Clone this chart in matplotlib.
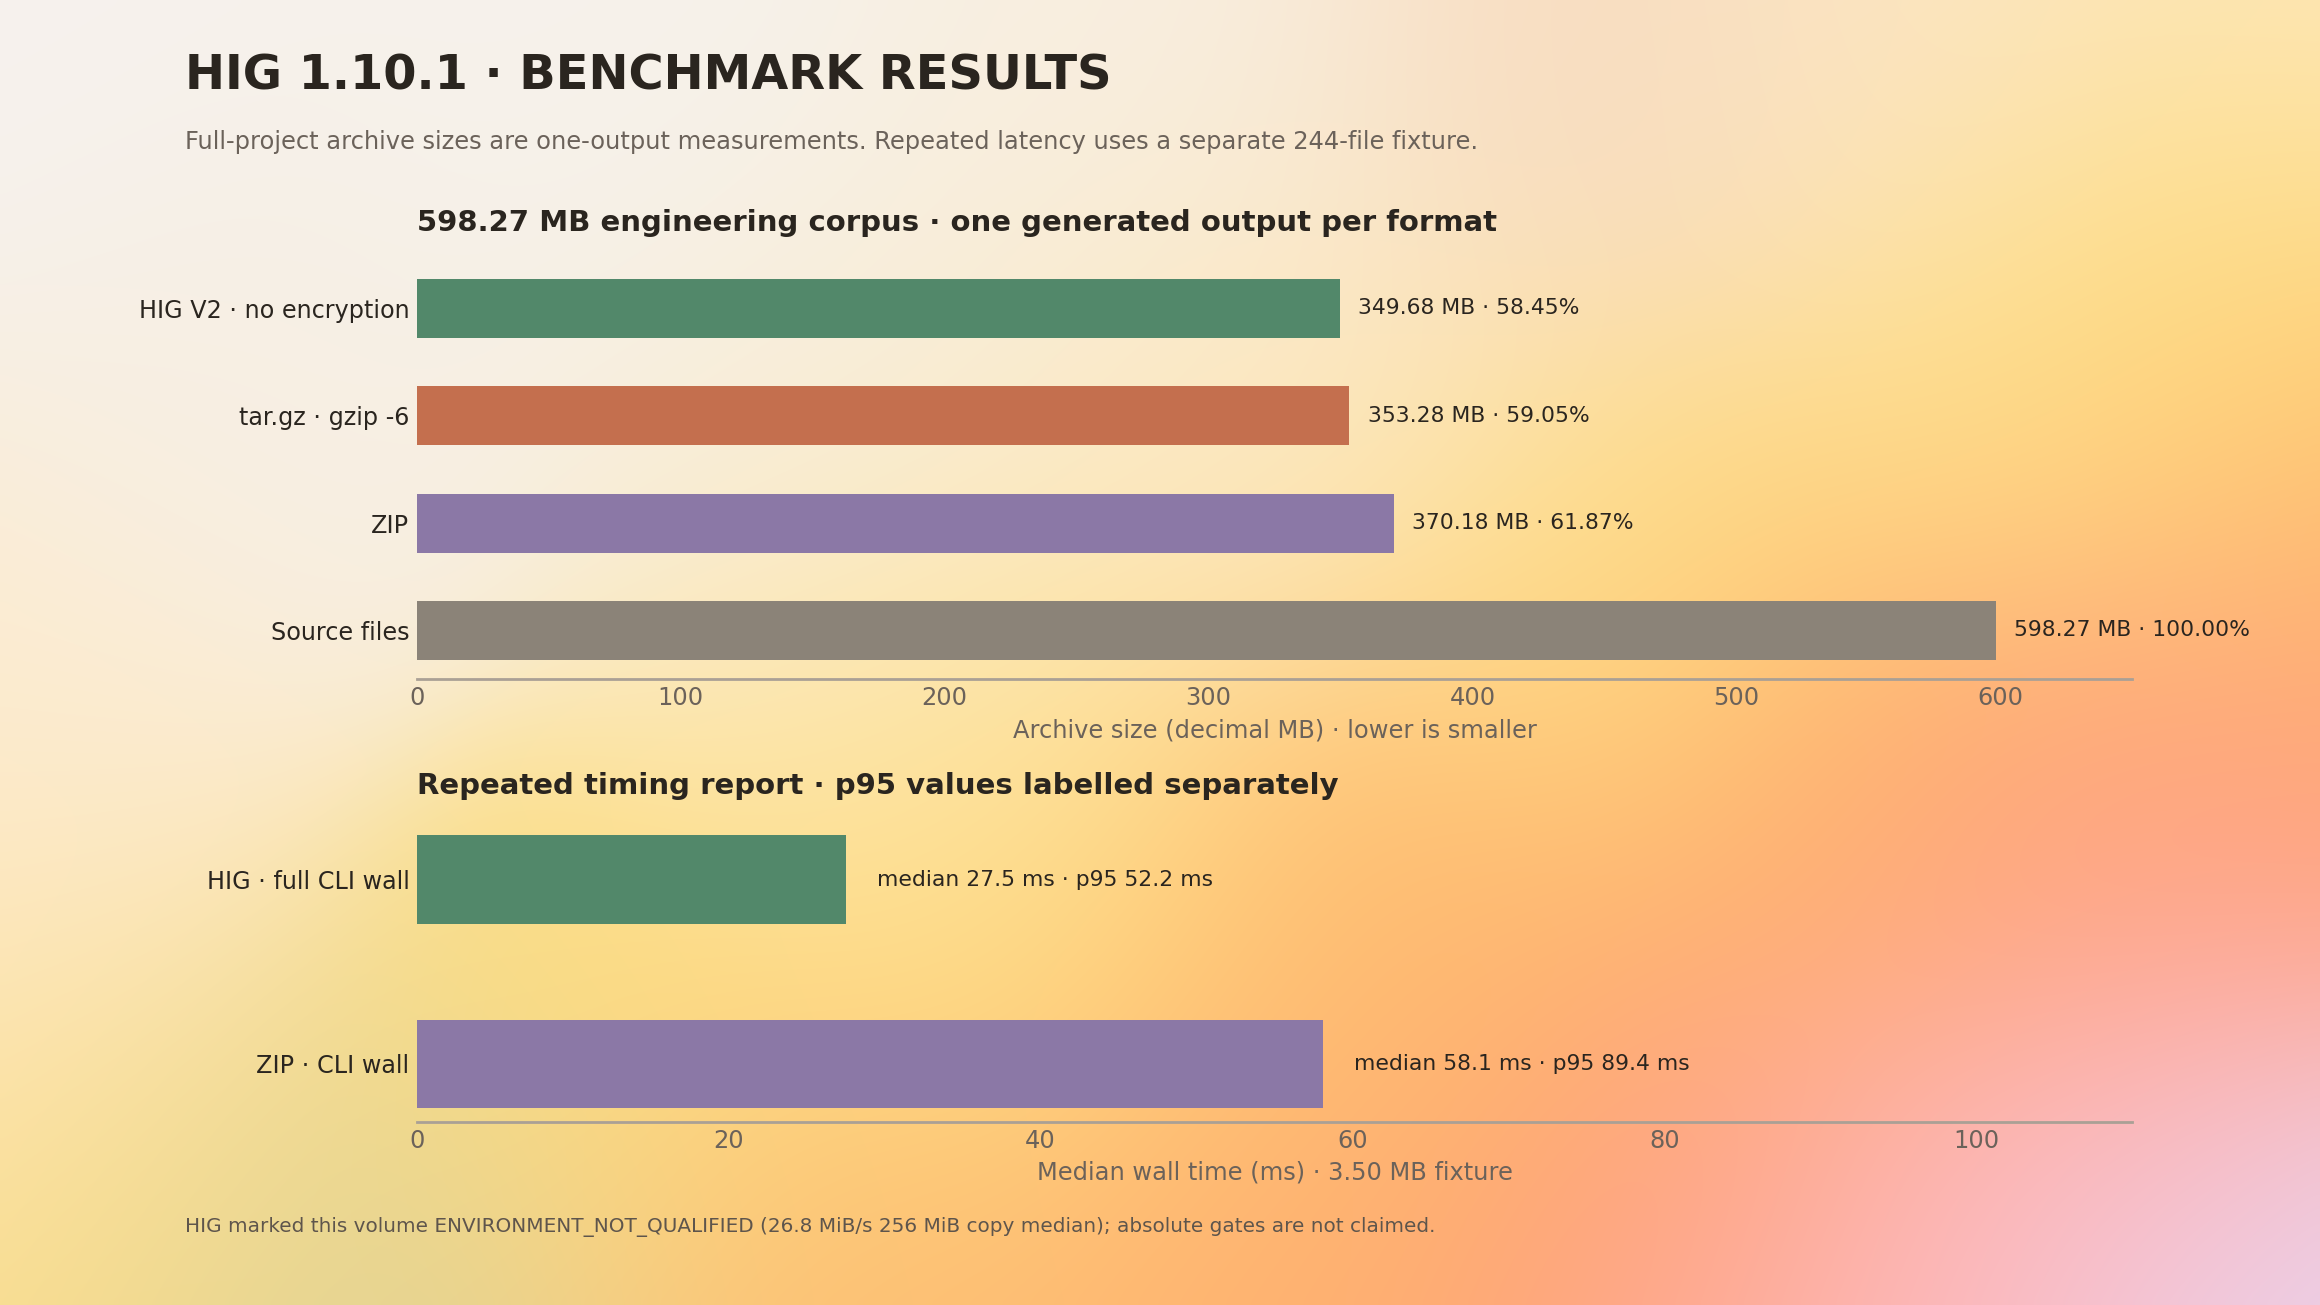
import matplotlib.pyplot as plt
import numpy as np
from matplotlib.colors import to_rgb

# archive sizes (decimal MB)
size_labels = ["HIG V2 · no encryption", "tar.gz · gzip -6", "ZIP", "Source files"]
size_values = [349.68, 353.28, 370.18, 598.27]
size_pct = [58.45, 59.05, 61.87, 100.00]
size_colors = ["#52886a", "#c46f4e", "#8b78a6", "#8b8378"]

# repeated timing (ms)
time_labels = ["HIG · full CLI wall", "ZIP · CLI wall"]
time_median = [27.5, 58.1]
time_p95 = [52.2, 89.4]
time_colors = ["#52886a", "#8b78a6"]

W, H = 2320, 1305
DARK = "#2a251f"
GREY = "#6b625a"
SPINE = "#aaa095"


def background(ax):
    # soft blobs of colour blended together
    blobs = [
        (0.00, 0.00, "#f6f2ee"), (0.25, 0.05, "#f6f2ec"), (0.50, 0.05, "#f8efe2"),
        (0.68, 0.08, "#f8dcc0"), (0.84, 0.04, "#fbe6c6"), (1.00, 0.00, "#fde8c0"),
        (0.97, 0.20, "#fede7a"), (0.88, 0.32, "#fee08a"), (1.00, 0.40, "#ffbc6c"),
        (0.10, 0.30, "#f7efe4"), (0.35, 0.30, "#f8eedc"), (0.00, 0.55, "#fcecd2"),
        (0.00, 0.78, "#fde6b8"), (0.55, 0.30, "#fce8c0"), (0.70, 0.45, "#fede86"),
        (0.40, 0.55, "#fde6ac"), (0.45, 0.72, "#fedd7e"), (0.25, 0.85, "#fddf84"),
        (0.05, 0.95, "#fddd84"), (0.15, 1.00, "#d8d09a"), (0.35, 1.00, "#fdbc72"),
        (0.55, 0.90, "#ffb070"), (0.72, 0.92, "#ff9e74"), (0.80, 0.62, "#ffb068"),
        (0.90, 0.65, "#ff9c7a"), (1.00, 0.58, "#ff9f7c"), (0.93, 0.85, "#fdbac6"),
        (0.82, 1.00, "#fdbcc6"), (1.00, 1.00, "#e6d6f2"), (0.60, 0.72, "#ffbc70"),
    ]
    gx, gy = np.meshgrid(np.linspace(0, 1, 320), np.linspace(0, 1, 180))
    num = np.zeros(gx.shape + (3,))
    den = np.zeros(gx.shape)
    for bx, by, c in blobs:
        d2 = ((gx - bx) * 1.78) ** 2 + (gy - by) ** 2
        w = np.exp(-d2 / 0.04)
        num += w[..., None] * np.array(to_rgb(c))
        den += w
    img = num / den[..., None]
    ax.imshow(img, extent=[0, 1, 0, 1], aspect="auto", interpolation="bicubic", origin="upper")
    ax.set_axis_off()


def style_axis(ax, xmax, xlabel):
    ax.set_facecolor("none")
    ax.set_xlim(0, xmax)
    ax.invert_yaxis()
    for s in ["top", "right", "left"]:
        ax.spines[s].set_visible(False)
    ax.spines["bottom"].set_color(SPINE)
    ax.spines["bottom"].set_linewidth(1.0)
    ax.tick_params(axis="x", length=0, pad=2.5, labelsize=8.7, labelcolor=GREY)
    ax.tick_params(axis="y", length=0, pad=2.7, labelsize=8.6, labelcolor=DARK)
    ax.set_xlabel(xlabel, fontsize=8.7, color=GREY, labelpad=3)


fig = plt.figure(figsize=(11.6, 6.525), dpi=200)
bg = fig.add_axes([0, 0, 1, 1], zorder=-10)
background(bg)


def add_axes(left, top, right, bottom):
    return fig.add_axes([left / W, 1 - bottom / H, (right - left) / W, (bottom - top) / H])


# top panel: archive sizes
ax1 = add_axes(417, 259.7, 2132, 679)
y1 = np.arange(len(size_labels))
ax1.barh(y1, size_values, height=0.55, color=size_colors)
ax1.set_yticks(y1)
ax1.set_yticklabels(size_labels)
style_axis(ax1, 650, "Archive size (decimal MB) · lower is smaller")
for i, (v, p) in enumerate(zip(size_values, size_pct)):
    ax1.text(v + 7, i, f"{v:.2f} MB · {p:.2f}%", va="center", ha="left", fontsize=7.9, color=DARK)

# bottom panel: timings
ax2 = add_axes(417, 821.8, 2132, 1121.6)
y2 = np.arange(len(time_labels))
ax2.barh(y2, time_median, height=0.48, color=time_colors)
ax2.set_yticks(y2)
ax2.set_yticklabels(time_labels)
ax2.set_xticks([0, 20, 40, 60, 80, 100])
style_axis(ax2, 110, "Median wall time (ms) · 3.50 MB fixture")
for i, (m, p) in enumerate(zip(time_median, time_p95)):
    ax2.text(m + 2, i, f"median {m:.1f} ms · p95 {p:.1f} ms", va="center", ha="left", fontsize=7.9, color=DARK)

# headings
fig.text(185 / W, 1 - 75.5 / H, "HIG 1.10.1 · BENCHMARK RESULTS", fontsize=17.25, fontweight="bold",
         color=DARK, va="center", ha="left")
fig.text(185 / W, 1 - 142 / H,
         "Full-project archive sizes are one-output measurements. Repeated latency uses a separate 244-file fixture.",
         fontsize=8.7, color="#6b625a", va="center", ha="left")
fig.text(417 / W, 1 - 223.4 / H, "598.27 MB engineering corpus · one generated output per format",
         fontsize=10.5, fontweight="bold", color=DARK, va="center", ha="left")
fig.text(417 / W, 1 - 785.7 / H, "Repeated timing report · p95 values labelled separately",
         fontsize=10.5, fontweight="bold", color=DARK, va="center", ha="left")
fig.text(185 / W, 1 - 1226.6 / H,
         "HIG marked this volume ENVIRONMENT_NOT_QUALIFIED (26.8 MiB/s 256 MiB copy median); absolute gates are not claimed.",
         fontsize=7.2, color="#5e554c", va="center", ha="left")

fig.savefig("out.png", dpi=200)
